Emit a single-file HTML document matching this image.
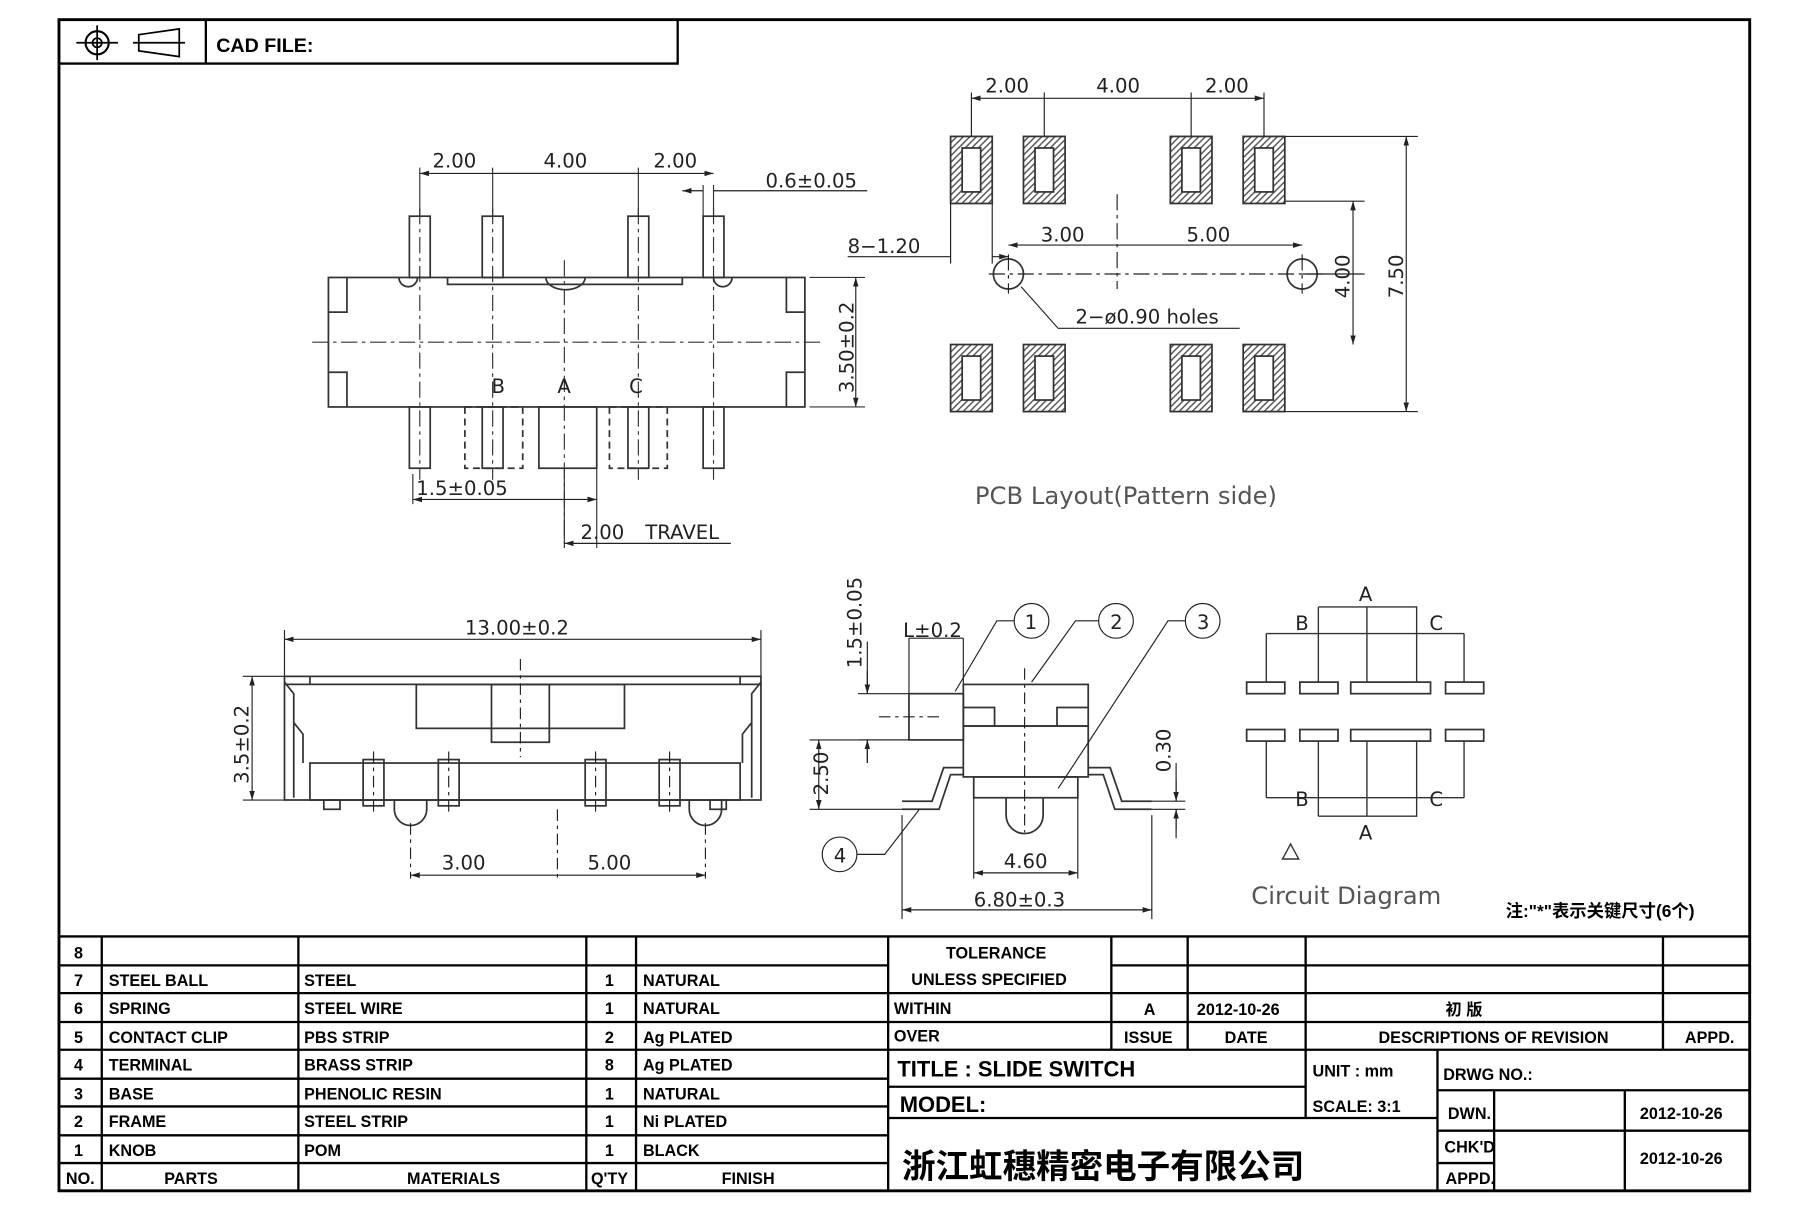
<!DOCTYPE html>
<html><head><meta charset="utf-8"><style>
html,body{margin:0;padding:0;background:#fff}
svg{display:block}
.t{font-family:"Liberation Sans Narrow","Liberation Sans","Noto Sans CJK SC",sans-serif;font-weight:bold;fill:#000}
.d{font-family:"DejaVu Sans","Liberation Sans",sans-serif;fill:#222;font-size:17px}
.g{font-family:"DejaVu Sans","Liberation Sans",sans-serif;fill:#555;font-size:21px}
</style></head><body>
<svg width="1811" height="1207" viewBox="0 0 1566 1044" preserveAspectRatio="none" xmlns="http://www.w3.org/2000/svg">
<defs>
<pattern id="h" width="4" height="4" patternUnits="userSpaceOnUse" patternTransform="rotate(45)"><rect width="4" height="4" fill="#fff"/><line x1="0" y1="0" x2="0" y2="4" stroke="#555" stroke-width="2.5"/></pattern>
<marker id="a" viewBox="0 0 10 10" refX="10" refY="5" markerWidth="8" markerHeight="8" orient="auto-start-reverse"><path d="M0,2 L10,5 L0,8z" fill="#222"/></marker>
</defs>
<g fill="none" stroke="#000">
<rect x="51" y="17" width="1462" height="1013" stroke-width="2.5"/>
<path d="M51 55H586V17M178 17V55" stroke-width="2"/>
<circle cx="84" cy="37" r="10" stroke-width="1.8"/><circle cx="84" cy="37" r="4" stroke-width="1.5"/><path d="M66 37H102M84 22V52M115 37H160M120 30L155 25V49L120 44Z" stroke-width="1.5"/>
</g>
<text class="t" x="187" y="45" font-size="17">CAD FILE:</text>

<!-- top-left view -->
<g fill="none" stroke="#333" stroke-width="1.5">
<rect x="284" y="240" width="412" height="112"/>
<path d="M284 270H300V240M696 270H680V240M284 322H300V352M696 322H680V352"/>
<path d="M387 240V246H590V240"/>
<rect x="354" y="187" width="18" height="53"/><rect x="417" y="187" width="18" height="53"/><rect x="543" y="187" width="18" height="53"/><rect x="608" y="187" width="18" height="53"/>
<rect x="354" y="352" width="18" height="53"/><rect x="417" y="352" width="18" height="53"/><rect x="543" y="352" width="18" height="53"/><rect x="608" y="352" width="18" height="53"/>
<rect x="466" y="352" width="50" height="53"/>
<rect x="402" y="352" width="50" height="53" stroke-dasharray="6 4"/><rect x="527" y="352" width="50" height="53" stroke-dasharray="6 4"/>
<path d="M270 296H712M488 225V470M363 180V415M426 180V415M552 180V415M617 180V415" stroke-dasharray="14 4 3 4" stroke-width="1"/>
<path d="M345 240A8 8 0 0 0 361 240M617 240A8 8 0 0 0 633 240M472 240A16 10 0 0 0 506 240"/>
<path d="M363 145V187M426 145V187M552 145V187M617 160V187M608 160V187M700 240H748M700 352H748M357 410V436M516 405V474M488 405V474" stroke-width="1"/>
</g>
<g stroke="#222" stroke-width="1" fill="none">
<path d="M363 150H617" marker-start="url(#a)" marker-end="url(#a)"/><path d="M426 150H552"/>
<path d="M740 240V352" marker-start="url(#a)" marker-end="url(#a)"/>
<path d="M590 165H608M617 165H750" marker-start="url(#a)"/>
<path d="M357 432H516" marker-start="url(#a)" marker-end="url(#a)"/>
<path d="M488 470H632" marker-start="url(#a)"/>
</g>
<text class="d" x="374" y="145">2.00</text><text class="d" x="470" y="145">4.00</text><text class="d" x="565" y="145">2.00</text>
<text class="d" x="662" y="162">0.6±0.05</text>
<text class="d" transform="translate(738,340) rotate(-90)">3.50±0.2</text>
<text class="d" x="425" y="340">B</text><text class="d" x="482" y="340">A</text><text class="d" x="544" y="340">C</text>
<text class="d" x="360" y="428">1.5±0.05</text>
<text class="d" x="502" y="466">2.00</text><text class="d" x="558" y="466">TRAVEL</text>

<!-- PCB -->
<g stroke="#333" stroke-width="1.5">
<g fill="url(#h)">
<rect x="822" y="118" width="36" height="58"/><rect x="885" y="118" width="36" height="58"/><rect x="1012" y="118" width="36" height="58"/><rect x="1075" y="118" width="36" height="58"/>
<rect x="822" y="298" width="36" height="58"/><rect x="885" y="298" width="36" height="58"/><rect x="1012" y="298" width="36" height="58"/><rect x="1075" y="298" width="36" height="58"/>
</g>
<g fill="#fff">
<rect x="832" y="128" width="16" height="38"/><rect x="895" y="128" width="16" height="38"/><rect x="1022" y="128" width="16" height="38"/><rect x="1085" y="128" width="16" height="38"/>
<rect x="832" y="308" width="16" height="38"/><rect x="895" y="308" width="16" height="38"/><rect x="1022" y="308" width="16" height="38"/><rect x="1085" y="308" width="16" height="38"/>
</g>
<g fill="none"><circle cx="872" cy="237" r="13"/><circle cx="1126" cy="237" r="13"/></g>
</g>
<g fill="none" stroke="#222" stroke-width="1">
<path d="M855 237H1145M872 220V254M1126 220V254M966 168V250" stroke-dasharray="14 4 3 4"/>
<path d="M840 80V118M903 80V118M1030 80V118M1093 80V118M822 176V228M858 176V228M1111 174H1180M1111 356H1226M1126 237H1180M1111 118H1226"/>
<path d="M840 85H1093" marker-start="url(#a)" marker-end="url(#a)"/>
<path d="M872 212H1126" marker-start="url(#a)" marker-end="url(#a)"/>
<path d="M733 222H822M858 222H872" marker-end="url(#a)"/>
<path d="M1170 174V298" marker-start="url(#a)" marker-end="url(#a)"/>
<path d="M1216 118V356" marker-start="url(#a)" marker-end="url(#a)"/>
<path d="M883 248L915 284H1072"/>
</g>
<text class="d" x="852" y="80">2.00</text><text class="d" x="948" y="80">4.00</text><text class="d" x="1042" y="80">2.00</text>
<text class="d" x="900" y="209">3.00</text><text class="d" x="1026" y="209">5.00</text>
<text class="d" x="733" y="219">8−1.20</text>
<text class="d" x="930" y="280">2−ø0.90 holes</text>
<text class="d" transform="translate(1167,258) rotate(-90)">4.00</text>
<text class="d" transform="translate(1213,258) rotate(-90)">7.50</text>
<text class="g" x="843" y="436">PCB Layout(Pattern side)</text>

<!-- side view -->
<g fill="none" stroke="#333" stroke-width="1.5">
<path d="M246 585H658V692H246Z"/>
<path d="M246 592H658M268 592V585M640 592V585"/>
<path d="M246 590L254 600V690M658 590L650 600V690M254 625L262 635V660M650 625L642 635V660"/>
<rect x="360" y="592" width="180" height="38"/><rect x="425" y="592" width="50" height="50"/>
<rect x="268" y="660" width="372" height="32"/>
<rect x="314" y="657" width="18" height="40"/><rect x="379" y="657" width="18" height="40"/><rect x="506" y="657" width="18" height="40"/><rect x="570" y="657" width="18" height="40"/>
<path d="M341 692V700A14 14 0 0 0 369 700V692M596 692V700A14 14 0 0 0 624 700V692"/>
<rect x="280" y="692" width="14" height="8"/><rect x="614" y="692" width="14" height="8"/>
</g>
<g fill="none" stroke="#222" stroke-width="1">
<path d="M450 570V655M323 650V705M388 650V705M515 650V705M579 650V705M482 700V760M355 712V760M610 712V760" stroke-dasharray="10 4 3 4"/>
<path d="M246 545V585M658 545V585M210 585H246M210 692H246"/>
<path d="M246 553H658" marker-start="url(#a)" marker-end="url(#a)"/>
<path d="M218 585V692" marker-start="url(#a)" marker-end="url(#a)"/>
<path d="M355 757H610" marker-start="url(#a)" marker-end="url(#a)"/>
</g>
<text class="d" x="402" y="549">13.00±0.2</text>
<text class="d" transform="translate(215,678) rotate(-90)">3.5±0.2</text>
<text class="d" x="382" y="752">3.00</text><text class="d" x="508" y="752">5.00</text>

<!-- end view -->
<g fill="none" stroke="#333" stroke-width="1.5">
<rect x="833" y="592" width="108" height="36"/>
<rect x="833" y="628" width="108" height="44"/>
<rect x="786" y="600" width="47" height="40"/>
<path d="M833 612H860V628M941 612H914V628"/>
<path d="M780 700H812L822 670H833M996 700H964L954 670H941M780 693H806L816 664H833M996 693H970L960 664H941"/>
<rect x="842" y="672" width="90" height="18"/>
<path d="M870 690V705A16 16 0 0 0 902 705V690"/>
</g>
<g fill="none" stroke="#222" stroke-width="1">
<path d="M886 578V720M760 620H815" stroke-dasharray="10 4 3 4"/>
<path d="M742 600H786M742 640H786M750 555V600M750 640V660" />
<path d="M750 580V600" marker-end="url(#a)"/><path d="M750 660V640" marker-end="url(#a)"/>
<path d="M700 640H786M700 700H780" />
<path d="M708 640V700" marker-start="url(#a)" marker-end="url(#a)"/>
<path d="M996 693H1025M996 700H1025M1017 660V693M1017 700V725" />
<path d="M1017 675V693" marker-end="url(#a)"/><path d="M1017 718V700" marker-end="url(#a)"/>
<path d="M786 552H833M786 552V600M833 552V592"/>
<path d="M780 705V795M996 705V795M842 690V760M932 690V760"/>
<path d="M842 755H932" marker-start="url(#a)" marker-end="url(#a)"/>
<path d="M780 787H996" marker-start="url(#a)" marker-end="url(#a)"/>
<circle cx="892" cy="537" r="15"/><circle cx="965" cy="537" r="15"/><circle cx="1040" cy="537" r="15"/><circle cx="726" cy="739" r="15"/>
<path d="M877 537H862L826 598M950 537H930L892 590M1025 537H1010L915 682M741 739H765L795 700"/>
</g>
<text class="d" x="886" y="544" font-size="16">1</text><text class="d" x="960" y="544" font-size="16">2</text><text class="d" x="1035" y="544" font-size="16">3</text><text class="d" x="721" y="746" font-size="16">4</text>
<text class="d" x="781" y="551">L±0.2</text>
<text class="d" transform="translate(745,578) rotate(-90)">1.5±0.05</text>
<text class="d" transform="translate(716,688) rotate(-90)">2.50</text>
<text class="d" transform="translate(1012,668) rotate(-90)">0.30</text>
<text class="d" x="868" y="751">4.60</text><text class="d" x="842" y="784">6.80±0.3</text>

<!-- circuit -->
<g fill="none" stroke="#333" stroke-width="1.5">
<rect x="1078" y="590" width="33" height="10"/><rect x="1124" y="590" width="33" height="10"/><rect x="1168" y="590" width="69" height="10"/><rect x="1250" y="590" width="33" height="10"/>
<rect x="1078" y="631" width="33" height="10"/><rect x="1124" y="631" width="33" height="10"/><rect x="1168" y="631" width="69" height="10"/><rect x="1250" y="631" width="33" height="10"/>
</g>
<g fill="none" stroke="#333" stroke-width="1.2">
<path d="M1140 525H1225V590M1140 525V590M1182 525V548M1095 548H1266M1095 548V590M1266 548V590M1182 548V590" />
<path d="M1140 706H1225V641M1140 706V641M1182 706V690M1095 690H1266M1095 690V641M1266 690V641M1182 690V641"/>
<path d="M1116 730L1109 743H1123Z"/>
</g>
<text class="d" x="1175" y="520">A</text><text class="d" x="1120" y="545">B</text><text class="d" x="1236" y="545">C</text>
<text class="d" x="1120" y="697">B</text><text class="d" x="1236" y="697">C</text><text class="d" x="1175" y="726">A</text>
<text class="g" x="1082" y="782">Circuit Diagram</text>
<text class="t" x="1302" y="793" font-size="15" font-weight="normal">注:"*"表示关键尺寸(6个)</text>

<!-- table -->
<g stroke="#000" stroke-width="2" fill="none">
<path d="M51 810H1513"/>
<path d="M51 835H768M51 859H768M51 884H1513M51 908H1513M51 933H768M51 957H768M51 982H768M51 1006H768"/>
<path d="M961 835H1513M768 859H1513M768 940H1129M768 967H1243M1243 943H1513M1243 978H1513M1243 1006H1292"/>
<path d="M88 810V1030M258 810V1030M507 810V1030M550 810V1030M768 810V1030"/>
<path d="M961 810V908M1027 810V908M1129 810V908M1438 810V908M1129 908V967M1243 908V1030M1292 943V1030M1405 943V1030"/>
</g>
<g class="t" font-size="14">
<text x="64" y="829">8</text>
<text x="64" y="853">7</text><text x="94" y="853">STEEL BALL</text><text x="263" y="853">STEEL</text><text x="523" y="853">1</text><text x="556" y="853">NATURAL</text>
<text x="64" y="877">6</text><text x="94" y="877">SPRING</text><text x="263" y="877">STEEL WIRE</text><text x="523" y="877">1</text><text x="556" y="877">NATURAL</text>
<text x="64" y="902">5</text><text x="94" y="902">CONTACT CLIP</text><text x="263" y="902">PBS STRIP</text><text x="523" y="902">2</text><text x="556" y="902">Ag PLATED</text>
<text x="64" y="926">4</text><text x="94" y="926">TERMINAL</text><text x="263" y="926">BRASS STRIP</text><text x="523" y="926">8</text><text x="556" y="926">Ag PLATED</text>
<text x="64" y="951">3</text><text x="94" y="951">BASE</text><text x="263" y="951">PHENOLIC RESIN</text><text x="523" y="951">1</text><text x="556" y="951">NATURAL</text>
<text x="64" y="975">2</text><text x="94" y="975">FRAME</text><text x="263" y="975">STEEL STRIP</text><text x="523" y="975">1</text><text x="556" y="975">Ni PLATED</text>
<text x="64" y="1000">1</text><text x="94" y="1000">KNOB</text><text x="263" y="1000">POM</text><text x="523" y="1000">1</text><text x="556" y="1000">BLACK</text>
<text x="57" y="1024">NO.</text><text x="142" y="1024">PARTS</text><text x="352" y="1024">MATERIALS</text><text x="511" y="1024">Q'TY</text><text x="624" y="1024">FINISH</text>
<text x="818" y="829">TOLERANCE</text><text x="788" y="852">UNLESS  SPECIFIED</text>
<text x="773" y="877">WITHIN</text><text x="773" y="901">OVER</text>
<text x="989" y="878">A</text><text x="1035" y="878">2012-10-26</text><text x="1250" y="878">初  版</text>
<text x="972" y="902">ISSUE</text><text x="1059" y="902">DATE</text><text x="1192" y="902">DESCRIPTIONS OF REVISION</text><text x="1457" y="902">APPD.</text>
<text x="776" y="931" font-size="19">TITLE : SLIDE SWITCH</text>
<text x="1135" y="931">UNIT :  mm</text><text x="1248" y="934">DRWG NO.:</text>
<text x="778" y="962" font-size="19">MODEL:</text><text x="1135" y="962">SCALE:  3:1</text>
<text x="1252" y="968">DWN.</text><text x="1418" y="968">2012-10-26</text>
<text x="1249" y="997">CHK'D</text><text x="1418" y="1007">2012-10-26</text>
<text x="1250" y="1024">APPD.</text>
<text x="780" y="1019" font-size="29" font-family="'Noto Sans CJK SC',sans-serif">浙江虹穗精密电子有限公司</text>
</g>
</svg>
</body></html>
